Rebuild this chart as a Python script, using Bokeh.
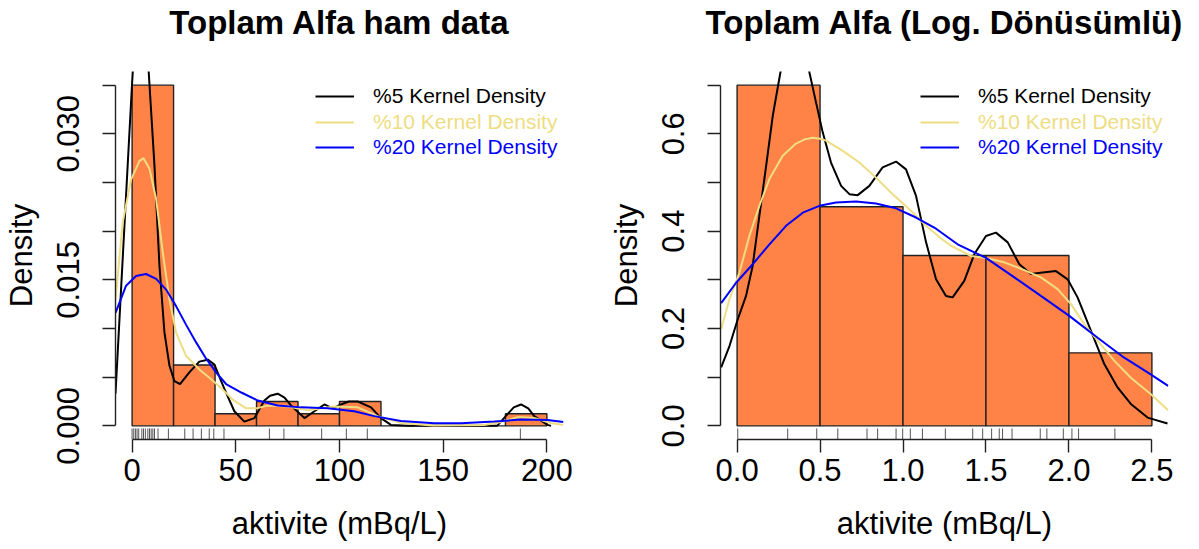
from bokeh.plotting import figure
from bokeh.layouts import row
from bokeh.models import (Range1d, FixedTicker, PrintfTickFormatter, Legend, LegendItem,
                          LinearAxis)
from bokeh.embed import file_html
from bokeh.resources import INLINE

FONT = "Liberation Sans"

# ---------------- Left panel: raw data ----------------
raw_edges = [0, 20, 40, 60, 80, 100, 120, 140, 160, 180, 200]
raw_density = [0.035, 0.00625, 0.00125, 0.0025, 0.00125, 0.0025, 0.0, 0.0, 0.0, 0.00125]
raw_rug = [0.0, 0.8, 1.6, 2.4, 3.2, 4.7, 5.5, 6.4, 7.6, 8.4, 9.2, 10.0, 10.8, 12.5, 17.5,
           25.4, 29.4, 33.4, 37.2, 39.4, 44.3, 66.2, 73.2, 91.4, 103.3, 113.4, 187.2]

raw_k5_x = [-8, -6, -4, -2, 0, 2, 4.2, 6, 8, 10.8, 13.2, 15.6, 18, 20.4, 23.1, 27.6, 32.4,
            36.5, 39.7, 44.5, 49.3, 54.1, 59, 63.8, 66.5, 70.2, 73.5, 76.6, 83.1, 87.9, 92.7,
            96.7, 100.7, 104.5, 108.8, 115.2, 120, 124.8, 133, 176, 181, 184, 187.5, 191,
            193.9, 200.3, 202]
raw_k5_y = [0.0033, 0.0113, 0.0193, 0.0273, 0.0352, 0.0425, 0.0465, 0.0440, 0.0364, 0.0267,
            0.0164, 0.0096, 0.0062, 0.0046, 0.0043, 0.0055, 0.0066, 0.0068, 0.0063, 0.0038,
            0.0015, 0.00044, 0.0008, 0.0026, 0.0031, 0.0033, 0.0029, 0.0021, 0.0008, 0.0015,
            0.0022, 0.0018, 0.0022, 0.0025, 0.0025, 0.0019, 0.0008, 0.0001, 0.0, 0.0, 0.0012,
            0.0019, 0.0022, 0.0018, 0.0010, 0.0001, 0.0]

raw_k10_x = [-8, -4.5, -0.5, 3.5, 5.5, 8.4, 11.6, 14.8, 18, 21.2, 26, 32.4, 37, 42.9, 48.5,
             55, 60, 65.4, 75, 84.7, 97.5, 108.8, 118.4, 129.6, 145, 169.8, 178, 185.9,
             193.9, 201.9, 208]
raw_k10_y = [0.0130, 0.0209, 0.0253, 0.0272, 0.0275, 0.0264, 0.0233, 0.0178, 0.0130, 0.0096,
             0.0072, 0.0058, 0.0050, 0.0039, 0.0027, 0.0018, 0.0018, 0.0021, 0.0020, 0.0016,
             0.0020, 0.0019, 0.0010, 0.0003, 0.00005, 0.0001, 0.0004, 0.0009, 0.0008, 0.0003,
             0.0001]

raw_k20_x = [-8, -2.9, 1.9, 6.7, 11.6, 16.4, 21.2, 26, 30.8, 35.7, 40.5, 45.3, 52.9, 60.6,
             70.2, 81.4, 94.3, 107.1, 116.8, 129.6, 145.7, 158.6, 174.6, 187.5, 200.3, 208]
raw_k20_y = [0.0116, 0.0144, 0.0154, 0.0156, 0.0151, 0.0140, 0.0123, 0.0104, 0.0086, 0.0069,
             0.0055, 0.0043, 0.0034, 0.0026, 0.0021, 0.0019, 0.0018, 0.0015, 0.0010, 0.0005,
             0.00027, 0.00027, 0.00044, 0.00065, 0.0006, 0.0004]

# ---------------- Right panel: log-transformed ----------------
log_edges = [0.0, 0.5, 1.0, 1.5, 2.0, 2.5]
log_density = [0.70, 0.45, 0.35, 0.35, 0.15]
log_rug = [0.004, 0.305, 0.48, 0.607, 0.783, 0.847, 0.958, 0.998, 1.044, 1.117, 1.255, 1.42,
           1.48, 1.534, 1.58, 1.6, 1.657, 1.827, 1.867, 1.966, 2.018, 2.058, 2.277]

log_k5_x = [-0.096, -0.046, 0.004, 0.054, 0.094, 0.134, 0.175, 0.215, 0.261, 0.30, 0.35, 0.40,
            0.436, 0.476, 0.516, 0.566, 0.627, 0.677, 0.727, 0.797, 0.877, 0.958, 1.018,
            1.078, 1.139, 1.199, 1.259, 1.299, 1.369, 1.430, 1.5, 1.560, 1.631, 1.701, 1.771,
            1.841, 1.922, 1.992, 2.052, 2.133, 2.213, 2.293, 2.373, 2.474, 2.594]
log_k5_y = [0.120, 0.164, 0.219, 0.267, 0.329, 0.431, 0.534, 0.637, 0.726, 0.80, 0.84, 0.80,
            0.726, 0.664, 0.603, 0.541, 0.493, 0.476, 0.474, 0.493, 0.531, 0.543, 0.527,
            0.473, 0.377, 0.301, 0.267, 0.264, 0.298, 0.353, 0.390, 0.397, 0.377, 0.332,
            0.312, 0.315, 0.318, 0.301, 0.264, 0.195, 0.127, 0.079, 0.045, 0.017, 0.005]

log_k10_x = [-0.096, -0.046, 0.014, 0.074, 0.134, 0.195, 0.275, 0.355, 0.41, 0.456, 0.50,
             0.536, 0.637, 0.737, 0.837, 0.938, 1.038, 1.139, 1.229, 1.289, 1.410, 1.5,
             1.610, 1.731, 1.831, 1.932, 2.012, 2.092, 2.173, 2.273, 2.373, 2.494, 2.598]
log_k10_y = [0.199, 0.260, 0.315, 0.390, 0.452, 0.507, 0.555, 0.580, 0.589, 0.592, 0.590,
             0.586, 0.565, 0.541, 0.510, 0.476, 0.445, 0.411, 0.385, 0.370, 0.349, 0.345,
             0.336, 0.320, 0.305, 0.281, 0.250, 0.209, 0.175, 0.134, 0.099, 0.065, 0.032]

log_k20_x = [-0.096, -0.006, 0.094, 0.195, 0.295, 0.396, 0.496, 0.596, 0.717, 0.837, 0.958,
             1.078, 1.199, 1.329, 1.5, 1.671, 1.831, 2.002, 2.173, 2.333, 2.474, 2.598]
log_k20_y = [0.252, 0.294, 0.332, 0.373, 0.411, 0.438, 0.452, 0.459, 0.461, 0.457, 0.447,
             0.428, 0.405, 0.373, 0.345, 0.305, 0.267, 0.226, 0.181, 0.140, 0.110, 0.082]

legend_labels = ["%5 Kernel Density", "%10 Kernel Density", "%20 Kernel Density"]
line_colors = ["#000000", "#EEDD82", "#0000FF"]

BAR_FILL = "#FF8247"
EDGE = "#222222"

FIG_H = 548
TOP = 71
BOTTOM = 109


def panel(title, edges, density, rug, curves, xr, yr, xticks, xfmt, ymajor, yminor, yfmt,
          width, min_left, min_right):
    p = figure(width=width, height=FIG_H, output_backend="svg", toolbar_location=None,
               x_range=Range1d(*xr), y_range=Range1d(*yr),
               min_border_left=min_left, min_border_right=min_right,
               min_border_top=TOP, min_border_bottom=BOTTOM)
    p.outline_line_color = None
    p.xgrid.visible = False
    p.ygrid.visible = False
    p.background_fill_color = "white"
    p.border_fill_color = "white"

    xax = p.below[0]
    yax = p.left[0]

    p.quad(left=edges[:-1], right=edges[1:], bottom=0, top=density,
           fill_color=BAR_FILL, line_color=EDGE, line_width=1.4)

    y0 = yr[0]
    rug_len = (yr[1] - yr[0]) * 0.03
    p.segment(x0=rug, x1=rug, y0=[y0] * len(rug), y1=[y0 + rug_len] * len(rug),
              line_color="#555555", line_width=1)

    renderers = []
    for (xs, ys), c in zip(curves, line_colors):
        renderers.append(p.line(xs, ys, line_color=c, line_width=2))

    for i, (r, lab, c) in enumerate(zip(renderers, legend_labels, line_colors)):
        lg = Legend(items=[LegendItem(label=lab, renderers=[r])],
                    location=(200, 331 - 25.5 * i), orientation="vertical",
                    glyph_width=39, glyph_height=20, label_height=20, label_standoff=19,
                    padding=0, margin=0, spacing=0,
                    label_text_font=FONT, label_text_font_size="21px",
                    label_text_color=c, border_line_color=None,
                    background_fill_alpha=0)
        p.add_layout(lg, "center")

    for ax in (xax, yax):
        ax.axis_line_color = "#222222"
        ax.axis_line_width = 1.4
        ax.major_tick_line_color = "#222222"
        ax.major_tick_line_width = 1.4
        ax.minor_tick_line_color = "#222222"
        ax.minor_tick_line_width = 1.4
        ax.major_tick_in = 0
        ax.major_tick_out = 13
        ax.minor_tick_in = 0
        ax.minor_tick_out = 13
        ax.major_label_text_font = FONT
        ax.major_label_text_font_size = "31px"
        ax.major_label_text_color = "black"
        ax.axis_label_text_font = FONT
        ax.axis_label_text_font_size = "31px"
        ax.axis_label_text_font_style = "normal"
        ax.axis_label_text_color = "black"

    xax.ticker = FixedTicker(ticks=xticks)
    xax.formatter = PrintfTickFormatter(format=xfmt)
    xax.bounds = (xticks[0], xticks[-1])
    xax.axis_label = "aktivite (mBq/L)"
    xax.major_label_standoff = 6
    xax.axis_label_standoff = 22

    yax.ticker = FixedTicker(ticks=ymajor, minor_ticks=yminor)
    yax.formatter = PrintfTickFormatter(format=yfmt)
    yax.bounds = (0, max(ymajor + yminor))
    yax.axis_label = "Density"
    yax.major_label_orientation = "vertical"
    yax.major_label_standoff = 23
    yax.axis_label_standoff = 16

    # title drawn as the label of a bare axis above the plot region
    title_axis = LinearAxis(ticker=FixedTicker(ticks=[]), axis_label=title,
                            axis_line_color=None, major_tick_line_color=None,
                            minor_tick_line_color=None, major_tick_out=0, major_tick_in=0,
                            minor_tick_out=0, minor_tick_in=0,
                            axis_label_standoff=31, axis_label_text_font=FONT,
                            axis_label_text_font_size="33px",
                            axis_label_text_font_style="bold",
                            axis_label_text_color="black")
    p.add_layout(title_axis, "above")
    return p


left = panel("Toplam Alfa ham data", raw_edges, raw_density, raw_rug,
             [(raw_k5_x, raw_k5_y), (raw_k10_x, raw_k10_y), (raw_k20_x, raw_k20_y)],
             (-8, 208), (-0.0014, 0.0364), [0, 50, 100, 150, 200], "%d",
             [0.0, 0.015, 0.030], [0.005, 0.010, 0.020, 0.025, 0.035], "%.3f",
             600, 114, 37)
right = panel("Toplam Alfa (Log. Dönüsümlü)", log_edges, log_density, log_rug,
              [(log_k5_x, log_k5_y), (log_k10_x, log_k10_y), (log_k20_x, log_k20_y)],
              (-0.1, 2.6), (-0.028, 0.728), [0.0, 0.5, 1.0, 1.5, 2.0, 2.5], "%.1f",
              [0.0, 0.2, 0.4, 0.6], [0.1, 0.3, 0.5, 0.7], "%.1f",
              591, 120, 23)

layout = row(left, right)
open("out.html", "w").write(file_html(layout, INLINE))
